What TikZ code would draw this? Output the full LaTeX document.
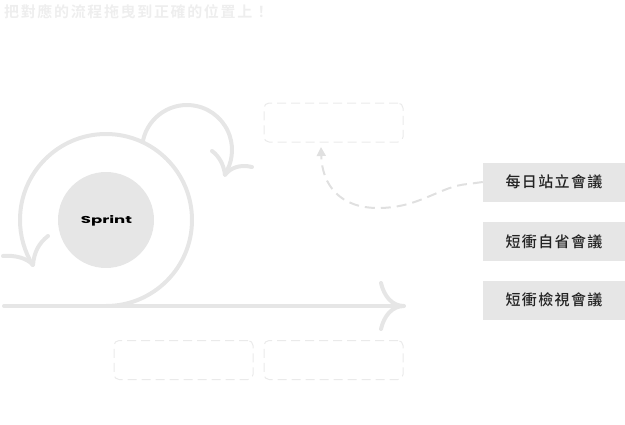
\documentclass[tikz,border=0pt]{standalone}
\usepackage{fontspec}
\usetikzlibrary{arrows.meta}
\newfontfamily\cjktitle[LetterSpace=11]{Noto Sans CJK TC Bold}
\newfontfamily\cjkbox[LetterSpace=9]{Noto Sans CJK TC Medium}
\newfontfamily\sprintfont{Poppins Bold}
\definecolor{loopgray}{HTML}{E6E6E6}
\definecolor{slotgray}{HTML}{EAEAEA}
\definecolor{titlegray}{HTML}{EEEEEE}
\definecolor{boxgray}{HTML}{E6E6E6}
\definecolor{dashgray}{HTML}{E0E0E0}
\definecolor{ink}{HTML}{222222}
\tikzset{
  loopline/.style={draw=loopgray, line width=4pt, line cap=round, line join=round},
  slotbox/.style={draw=slotgray, line width=1pt, dash pattern=on 9pt off 5pt,
    rounded corners=5pt, minimum width=139pt, minimum height=39pt, inner sep=0pt},
  optbox/.style={fill=boxgray, minimum width=142pt, minimum height=39pt, inner sep=0pt,
    text=ink, font=\cjkbox\fontsize{15}{15}\selectfont},
  dragpath/.style={draw=dashgray, line width=2pt, dash pattern=on 10pt off 6pt},
}
\begin{document}
\begin{tikzpicture}[x=1pt,y=1pt]
\useasboundingbox (0,0) rectangle (625,-424);

% heading
\node[anchor=west, inner sep=0pt, text=titlegray, font=\cjktitle\fontsize{15}{15}\selectfont]
  (title) at (4,-12) {把對應的流程拖曳到正確的位置上！};

% sprint core
\node[circle, fill=loopgray, minimum size=96pt, inner sep=0pt] (sprint) at (106,-220) {};
\node[inner sep=0pt, text=black] (sprintLabel) at (106.5,-221)
  {\sprintfont\fontsize{10}{10}\selectfont\scalebox{1.65}[1]{Sprint}};

% timeline with curved head
\coordinate (lineStart) at (4,-306);
\coordinate (lineTip) at (404,-306);
\draw[loopline] (lineStart) -- (lineTip);
\draw[loopline] (381,-283) .. controls (384,-296) and (392,-306) .. (lineTip)
  .. controls (392,-306) and (384,-316) .. (381,-329);

% big loop around the sprint, ending in a curved head
\draw[loopline] (106,-306) arc[start angle=-90, end angle=211.6, radius=86];
\coordinate (bigTip) at (33,-265);
\draw[loopline] (48,-236) .. controls (39,-243) and (34,-252) .. (bigTip)
  .. controls (27,-258) and (15,-255) .. (3,-256);

% small daily loop on top
\draw[loopline] (187,-150) ++(167.5:45) arc[start angle=167.5, end angle=-32.7, radius=45];
\coordinate (smallTip) at (225,-175);
\draw[loopline] (212,-151) .. controls (219,-156) and (224,-165) .. (smallTip)
  .. controls (230,-168) and (240,-164) .. (252,-167);

% empty drop slots
\node[slotbox] (slotTop) at (333.5,-122.5) {};
\node[slotbox] (slotLeft) at (183.5,-360) {};
\node[slotbox] (slotRight) at (333.5,-360) {};

% draggable options
\node[optbox] (optStandup) at (554,-182) {每日站立會議};
\node[optbox] (optRetro) at (554,-241.5) {短衝自省會議};
\node[optbox] (optReview) at (554,-300) {短衝檢視會議};

% drag hint
\coordinate (dropTip) at (321,-147);
\draw[dragpath, -{Triangle[length=9pt,width=9pt]}] (optStandup.west) -- (468,-184)
  .. controls (440,-186) and (420,-208) .. (378,-208)
  .. controls (340,-208) and (322,-185) .. (dropTip);
\end{tikzpicture}
\end{document}
